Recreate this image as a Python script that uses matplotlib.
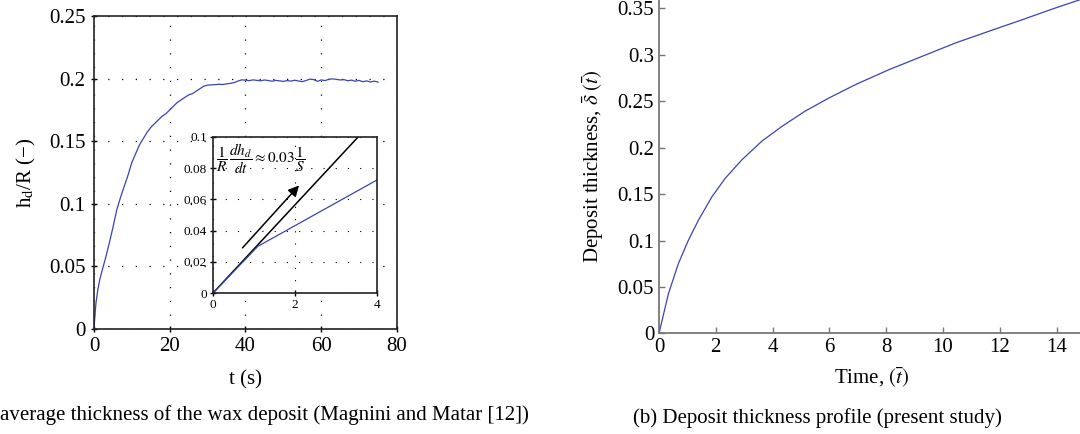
import matplotlib.pyplot as plt
import numpy as np

plt.rcParams['font.family'] = ['Liberation Serif', 'DejaVu Serif']
plt.rcParams['mathtext.fontset'] = 'stix'

# measured mean deposit thickness (Magnini and Matar)
t_exp = [0, 0.5, 1, 1.5, 2, 3, 4, 5, 6, 7, 8, 9, 10, 11, 12, 13, 14, 15, 16, 17,
         18, 19, 20, 21, 22, 23, 24, 25, 26, 27, 28, 29, 30, 31, 32, 33, 34, 35, 36,
         37, 38, 39, 40, 41, 42, 43, 44, 45, 46, 47, 48, 49, 50, 51, 52, 53, 54, 55,
         56, 57, 58, 59, 60, 61, 62, 63, 64, 65, 66, 67, 68, 69, 70, 71, 72, 73, 74, 75]
h_exp = [0, 0.020, 0.031, 0.039, 0.045, 0.056, 0.068, 0.081, 0.095, 0.105, 0.114,
         0.123, 0.133, 0.140, 0.147, 0.152, 0.157, 0.161, 0.164, 0.167, 0.170, 0.172,
         0.175, 0.178, 0.181, 0.183, 0.185, 0.187, 0.188, 0.190, 0.192, 0.194, 0.1948,
         0.1950, 0.1952, 0.1955, 0.1953, 0.1958, 0.1962, 0.1968, 0.1980, 0.1990,
         0.1988, 0.1984, 0.1990, 0.1986, 0.1983, 0.1989, 0.1985, 0.1979, 0.1986,
         0.1982, 0.1978, 0.1984, 0.1980, 0.1987, 0.1981, 0.1976, 0.1985, 0.1996,
         0.1992, 0.1978, 0.1990, 0.1984, 0.1995, 0.1998, 0.1994, 0.1989, 0.1992,
         0.1983, 0.1988, 0.1979, 0.1986, 0.1975, 0.1982, 0.1973, 0.1980, 0.1972]

# early-time zoom: linear fit and measured curve
t_fit = [0, 3.55]
h_fit = [0, 0.1]
t_early = [0, 1.1, 4]
h_early = [0, 0.030, 0.0723]

# present study, dimensionless thickness vs dimensionless time
t_bar = [0, 0.33, 0.68, 1.03, 1.39, 1.86, 2.33, 2.92, 3.62, 4.33, 5.15, 5.98,
         6.92, 8.09, 9.27, 10.45, 11.62, 12.8, 13.98, 15.0]
delta_bar = [0, 0.0425, 0.075, 0.100, 0.122, 0.147, 0.167, 0.187, 0.207, 0.223,
             0.2395, 0.2535, 0.268, 0.284, 0.2985, 0.313, 0.3255, 0.338, 0.3508,
             0.3612]

blue = '#3a44b4'
dots = (0, (1, 10))

fig = plt.figure(figsize=(10.8, 4.34), dpi=100)

# (a) experiment
ax1 = fig.add_axes([0.087, 0.2419, 0.2806, 0.7212])
ax1.plot(t_exp, h_exp, color=blue, lw=0.9)
ax1.set_xlim(0, 80)
ax1.set_ylim(0, 0.25)
ax1.set_xticks([0, 20, 40, 60, 80])
ax1.set_yticks([0, 0.05, 0.1, 0.15, 0.2, 0.25])
ax1.set_yticklabels(['0', '0.05', '0.1', '0.15', '0.2', '0.25'])
ax1.grid(True, color='k', lw=0.9, linestyle=dots)
ax1.tick_params(direction='inout', length=5, width=1, labelsize=15)
for s in ax1.spines.values():
    s.set_linewidth(1.2)
    s.set_color('#222222')
ax1.set_xlabel('t (s)', fontsize=15, labelpad=10)
ax1.set_ylabel(r'h$_\mathrm{d}$/R (−)', fontsize=15, labelpad=8)

ax2 = fig.add_axes([0.197, 0.3242, 0.1519, 0.3608])
ax2.set_facecolor('white')
ax2.plot(t_fit, h_fit, color='k', lw=1.1)
ax2.plot(t_early, h_early, color=blue, lw=0.9)
ax2.annotate('', xy=(2.15, 0.0702), xytext=(0.68, 0.0277),
             arrowprops=dict(arrowstyle='-|>', color='k', lw=1.1, mutation_scale=16))
ax2.text(0.08, 0.086, r'$\dfrac{1}{R}\,\dfrac{dh_d}{dt}\approx 0.03\,\dfrac{1}{S}$',
         fontsize=11, va='center', ha='left')
ax2.set_xlim(0, 4)
ax2.set_ylim(0, 0.1)
ax2.set_xticks([0, 2, 4])
ax2.set_yticks([0, 0.02, 0.04, 0.06, 0.08, 0.1])
ax2.set_yticklabels(['0', '0.02', '0.04', '0.06', '0.08', '0.1'])
ax2.grid(True, color='k', lw=0.8, linestyle=dots)
ax2.tick_params(direction='inout', length=4, width=1, labelsize=9.5, pad=2)
for s in ax2.spines.values():
    s.set_linewidth(1.2)
    s.set_color('#222222')

# (b) model
ax3 = fig.add_axes([0.6102, 0.232, 0.3944, 0.7698])
ax3.plot(t_bar, delta_bar, color=blue, lw=0.9)
ax3.set_xlim(0, 15)
ax3.set_ylim(0, 0.36)
ax3.set_xticks([0, 2, 4, 6, 8, 10, 12, 14])
ax3.set_yticks([0, 0.05, 0.1, 0.15, 0.2, 0.25, 0.3, 0.35])
ax3.set_yticklabels(['0', '0.05', '0.1', '0.15', '0.2', '0.25', '0.3', '0.35'])
ax3.tick_params(direction='in', length=4, width=1, color='#777777', labelsize=15)
ax3.spines['top'].set_visible(False)
ax3.spines['right'].set_visible(False)
for s in ax3.spines.values():
    s.set_linewidth(1.3)
    s.set_color('#777777')
ax3.set_xlabel(r'Time, $(\bar{t})$', fontsize=15, labelpad=7)
ax3.set_ylabel(r'Deposit thickness, $\bar{\delta}\ (\bar{t})$', fontsize=15, labelpad=8)

fig.text(0.0, 0.044, 'average thickness of the wax deposit (Magnini and Matar [12])',
         fontsize=15, ha='left', va='center')
fig.text(0.7565, 0.037, '(b) Deposit thickness profile (present study)',
         fontsize=15, ha='center', va='center')

fig.savefig('out.png', dpi=100)
